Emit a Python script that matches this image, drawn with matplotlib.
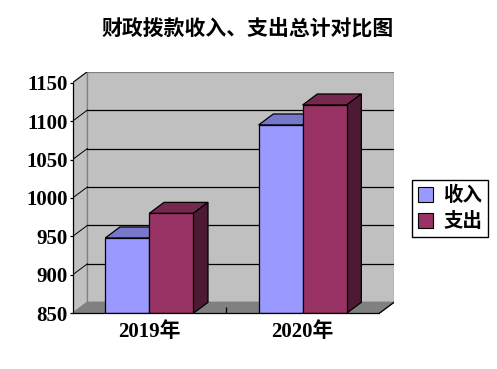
import matplotlib
matplotlib.use("Agg")
import matplotlib.pyplot as plt
from matplotlib.patches import Polygon, Patch

# ---- data ----
title = "财政拨款收入、支出总计对比图"
categories = ["2019年", "2020年"]
series_names = ["收入", "支出"]
income = [948, 1095]
expense = [980, 1121]
y_ticks = [850, 900, 950, 1000, 1050, 1100, 1150]

# ---- style ----
front_cols = ["#9999FF", "#993366"]
top_cols = ["#7777CC", "#77284F"]
side_cols = ["#4D4D80", "#4D1A33"]
wall_col = "#C0C0C0"
floor_col = "#808080"
FAM = ["Liberation Serif", "Noto Sans CJK SC"]

ymin, ymax = 850, 1150
ncat = len(categories)
dx = 0.096          # depth offset in category units
dy = 14.3           # depth offset in value units
w = 0.287           # bar width in category units

fig = plt.figure(figsize=(4.97, 3.69), dpi=100)
L, R = 72.6 / 497, 394 / 497
B, T = (369 - 313.3) / 369, (369 - 71.7) / 369
ax = fig.add_axes([L, B, R - L, T - B])
ax.set_xlim(0, ncat + dx)
ax.set_ylim(ymin, ymax + dy)
ax.patch.set_visible(False)

lw = 0.9
# back wall
ax.add_patch(Polygon([(dx, ymin + dy), (ncat + dx, ymin + dy), (ncat + dx, ymax + dy), (dx, ymax + dy)],
                     closed=True, facecolor=wall_col, edgecolor="#808080", lw=lw, zorder=1))
# side wall
ax.add_patch(Polygon([(0, ymin), (dx, ymin + dy), (dx, ymax + dy), (0, ymax)],
                     closed=True, facecolor=wall_col, edgecolor="#808080", lw=lw, zorder=1))
# floor
ax.add_patch(Polygon([(0, ymin), (ncat, ymin), (ncat + dx, ymin + dy), (dx, ymin + dy)],
                     closed=True, facecolor=floor_col, edgecolor="#808080", lw=lw, zorder=1))
# gridlines
for v in y_ticks[1:-1]:
    ax.plot([dx, ncat + dx], [v + dy, v + dy], color="black", lw=lw, zorder=2)
for v in y_ticks[1:]:
    ax.plot([0, dx], [v, v + dy], color="black", lw=0.7, zorder=2)
# right floor edge
ax.plot([ncat, ncat + dx], [ymin, ymin + dy], color="black", lw=lw, zorder=2)

# bars
data = [income, expense]
for i in range(ncat):
    for j, vals in enumerate(data):
        v = vals[i]
        x0 = i + 0.5 - w + j * w
        z = 3 + j
        ax.add_patch(Polygon([(x0, ymin), (x0 + w, ymin), (x0 + w, v), (x0, v)], closed=True,
                             facecolor=front_cols[j], edgecolor="black", lw=lw, zorder=z + 0.2))
        ax.add_patch(Polygon([(x0, v), (x0 + w, v), (x0 + w + dx, v + dy), (x0 + dx, v + dy)], closed=True,
                             facecolor=top_cols[j], edgecolor="black", lw=lw, zorder=z))
        ax.add_patch(Polygon([(x0 + w, ymin), (x0 + w + dx, ymin + dy), (x0 + w + dx, v + dy), (x0 + w, v)],
                             closed=True, facecolor=side_cols[j], edgecolor="black", lw=lw, zorder=z))

# axes
for s in ["top", "right"]:
    ax.spines[s].set_visible(False)
ax.spines["left"].set_bounds(ymin, ymax)
ax.spines["bottom"].set_bounds(0, ncat)
ax.spines["left"].set_zorder(6)
ax.spines["bottom"].set_zorder(6)
ax.spines["left"].set_linewidth(lw)
ax.spines["bottom"].set_linewidth(lw)

ax.set_yticks(y_ticks)
ax.set_yticklabels([str(t) for t in y_ticks])
ax.tick_params(axis="y", length=2, width=lw, pad=1.5)
ax.set_xticks([i + 0.5 for i in range(ncat)])
ax.set_xticklabels(categories)
ax.tick_params(axis="x", length=0, pad=6)
ax.set_xticks(list(range(1, ncat)), minor=True)
ax.tick_params(axis="x", which="minor", direction="in", length=4, width=lw)
for lab in ax.get_yticklabels() + ax.get_xticklabels():
    lab.set_fontfamily(FAM)
    lab.set_fontsize(15)
    lab.set_fontweight("bold")

fig.text(247.3 / 497, 1 - 30 / 369, title, ha="center", va="center",
         fontsize=15, fontweight="bold", family=FAM)

handles = [Patch(facecolor=front_cols[j], edgecolor="black", lw=0.8) for j in range(2)]
leg = fig.legend(handles, series_names, loc="center", bbox_to_anchor=(450 / 497, 1 - 208.3 / 369),
                 frameon=True, fancybox=False, edgecolor="black", framealpha=1,
                 prop={"family": FAM, "size": 14, "weight": "bold"},
                 handlelength=0.8, handleheight=0.8, handletextpad=0.5, borderpad=0.3,
                 labelspacing=0.35, borderaxespad=0)
leg.get_frame().set_linewidth(1.0)

fig.savefig("out.png", dpi=100)
